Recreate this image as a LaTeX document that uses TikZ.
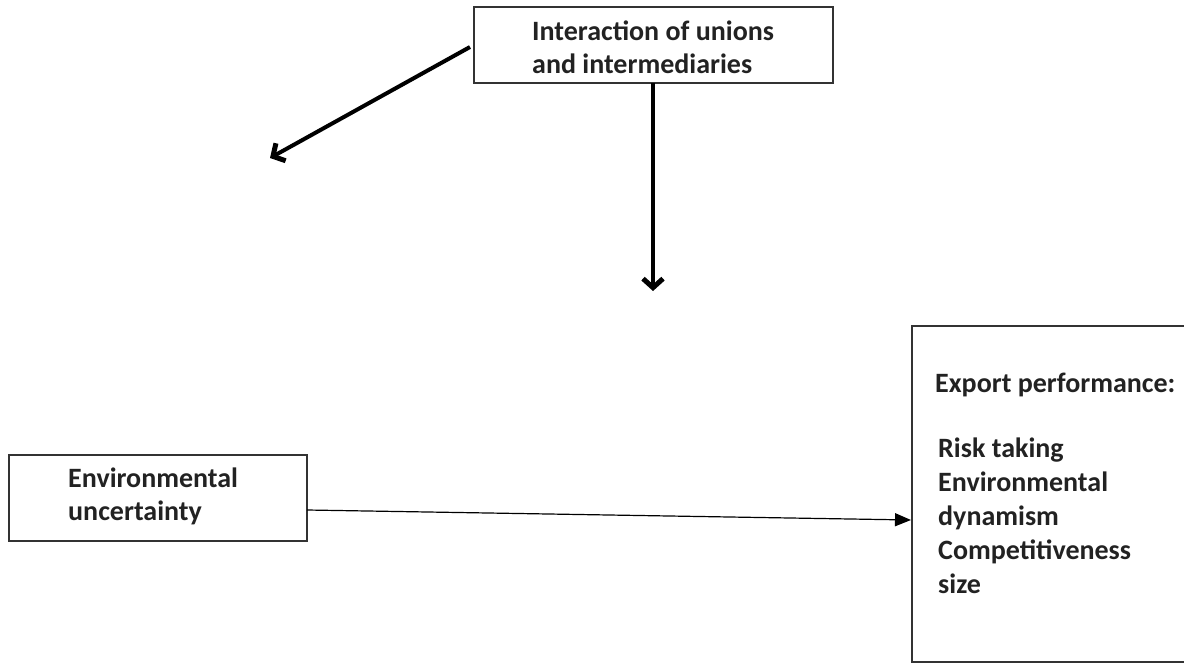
\documentclass[tikz,border=0pt]{standalone}
\usepackage{fontspec}
\setmainfont{Carlito}
\usetikzlibrary{arrows.meta}
\definecolor{ink}{HTML}{222222}
\definecolor{edge}{HTML}{333333}
\tikzset{
  boxframe/.style={draw=edge, line width=1.4pt},
  label/.style={inner sep=0pt, anchor=base west, text=ink, font=\fontsize{28}{33}\selectfont\bfseries, align=left},
  thickarrow/.style={line width=4pt, draw=black, -{Straight Barb[length=9pt,width=20pt,line width=5pt]}},
  thinarrow/.style={line width=1.2pt, draw=black, -{Triangle[length=16pt,width=13pt]}}
}
\begin{document}
\begin{tikzpicture}[x=1pt,y=-1pt]
\useasboundingbox (0,0) rectangle (1184,664);
% boxes
\draw[boxframe] (474,7) rectangle (833,83);
\draw[boxframe] (9,455) rectangle (307,541);
\draw[boxframe] (912,326) rectangle (1190,662);
% anchor coordinates for connectors
\coordinate (topbottom) at (653,83);
\coordinate (topleft) at (470,47);
\coordinate (envright) at (307,510);
\coordinate (expleft) at (911,520);
\coordinate (downtip) at (653,291);
\coordinate (lefttip) at (270,158);
% texts (base anchor = baseline of last line)
\node[label] (toptext) at (532,73) {Interaction of unions\\and intermediaries};
\node[label] (envtext) at (68,520) {Environmental\\uncertainty};
\node[label] (exphead) at (935,392) {Export performance:};
\node[label, font=\fontsize{28}{34}\selectfont\bfseries] (explist) at (938,593) {Risk taking\\Environmental\\dynamism\\Competitiveness\\size};
% connectors
\draw[thickarrow] (topbottom) -- (downtip);
\draw[thickarrow] (topleft) -- (lefttip);
\draw[thinarrow] (envright) -- (expleft);
\end{tikzpicture}
\end{document}
